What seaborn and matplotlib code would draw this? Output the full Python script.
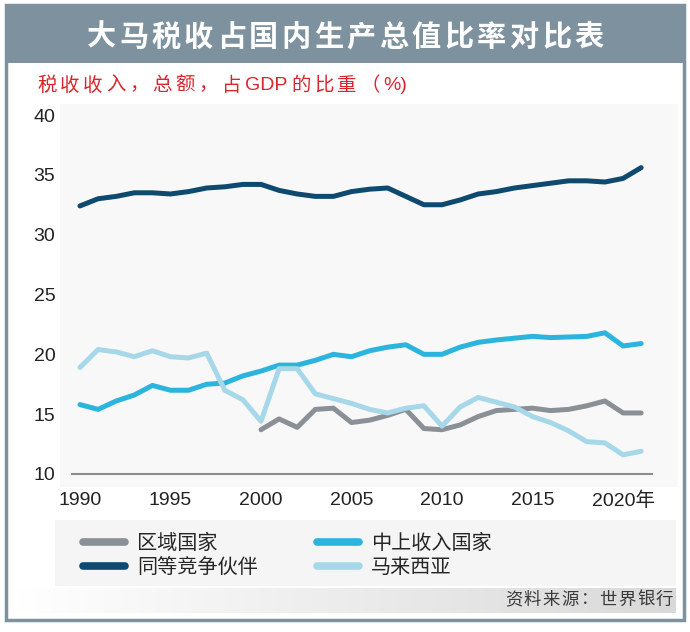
import re

import numpy as np
import pandas as pd
import seaborn as sns
import matplotlib.pyplot as plt
from matplotlib.patches import Rectangle
from matplotlib.lines import Line2D
from matplotlib.colors import LinearSegmentedColormap

W, H = 690, 632

years = list(range(1990, 2022))
regional_years = list(range(2000, 2022))

regional = [13.7, 14.6, 13.9, 15.4, 15.5, 14.3, 14.5, 14.9, 15.4, 13.8, 13.7,
            14.1, 14.8, 15.3, 15.4, 15.5, 15.3, 15.4, 15.7, 16.1, 15.1, 15.1]
upper_middle = [15.8, 15.4, 16.1, 16.6, 17.4, 17.0, 17.0, 17.5, 17.6, 18.2,
                18.6, 19.1, 19.1, 19.5, 20.0, 19.8, 20.3, 20.6, 20.8, 20.0,
                20.0, 20.6, 21.0, 21.2, 21.35, 21.5, 21.4, 21.45, 21.5, 21.8,
                20.7, 20.9]
peers = [32.4, 33.0, 33.2, 33.5, 33.5, 33.4, 33.6, 33.9, 34.0, 34.2,
         34.2, 33.7, 33.4, 33.2, 33.2, 33.6, 33.8, 33.9, 33.2, 32.5,
         32.5, 32.9, 33.4, 33.6, 33.9, 34.1, 34.3, 34.5, 34.5, 34.4,
         34.7, 35.6]
malaysia = [18.9, 20.4, 20.2, 19.8, 20.3, 19.8, 19.7, 20.1, 17.0, 16.2,
            14.4, 18.8, 18.8, 16.7, 16.3, 15.9, 15.4, 15.1, 15.5, 15.7,
            14.0, 15.6, 16.4, 16.0, 15.6, 14.8, 14.3, 13.6, 12.7, 12.6,
            11.6, 11.9]

series_names = ['区域国家', '中上收入国家', '同等竞争伙伴', '马来西亚']
colors = ['#8b9096', '#2bb5de', '#0e4a6f', '#a6d8ea']

title = '大马税收占国内生产总值比率对比表'
subtitle = '税收收入，总额，占GDP的比重（%)'
source = '资料来源：世界银行'
x_ticks = [1990, 1995, 2000, 2005, 2010, 2015, 2020]
x_labels = ['1990', '1995', '2000', '2005', '2010', '2015', '2020年']
y_ticks = [10, 15, 20, 25, 30, 35, 40]

df = pd.concat([
    pd.DataFrame({'year': regional_years, 'value': regional, 'series': series_names[0]}),
    pd.DataFrame({'year': years, 'value': upper_middle, 'series': series_names[1]}),
    pd.DataFrame({'year': years, 'value': peers, 'series': series_names[2]}),
    pd.DataFrame({'year': years, 'value': malaysia, 'series': series_names[3]}),
])

sns.set_style('white')
plt.rcParams['font.family'] = ['Liberation Sans', 'Noto Sans CJK SC']

fig = plt.figure(figsize=(6.9, 6.32), dpi=100)
renderer = fig.canvas.get_renderer()


def box(x0, y0, x1, y1, **kw):
    # rectangle given in pixel coords (top-left origin)
    fig.patches.append(Rectangle((x0 / W, 1 - y1 / H), (x1 - x0) / W, (y1 - y0) / H,
                                 transform=fig.transFigure, **kw))


def pitched_text(x_first, x_last, y, s, **kw):
    # one glyph per slot, evenly spread between first and last centre
    step = (x_last - x_first) / (len(s) - 1)
    for i, ch in enumerate(s):
        fig.text((x_first + i * step) / W, 1 - y / H, ch, ha='center', va='center', **kw)


def spaced_text(x, y, s, gap, **kw):
    # token by token, for mixed CJK / latin strings
    for tok in re.findall(r'[A-Za-z0-9%()]+|.', s):
        t = fig.text(x / W, 1 - y / H, tok, ha='left', va='center', **kw)
        x += t.get_window_extent(renderer=renderer).width + gap


# frame, title band and light panels
box(6, 5, 684, 620, facecolor='none', edgecolor='#7d929e', linewidth=2.5, zorder=5)
box(6, 5, 684, 63, facecolor='#7d929e', edgecolor='none', zorder=-2)
box(60, 104, 678, 487, facecolor='#f8f8f8', edgecolor='none', zorder=-2)
box(55, 520, 676, 586, facecolor='#f5f5f5', edgecolor='none', zorder=-2)

pitched_text(101, 589, 38, title, fontsize=21, fontweight='bold', color='white')
spaced_text(37, 86, subtitle, 3.6, fontsize=14, color='#d9262e')

ax = fig.add_axes([72 / W, 1 - 474 / H, (652 - 72) / W, (474 - 115) / H])
ax.set_zorder(2)
ax.patch.set_alpha(0)
sns.lineplot(data=df, x='year', y='value', hue='series', hue_order=series_names,
             palette=dict(zip(series_names, colors)), estimator=None,
             linewidth=3.6, solid_capstyle='round', solid_joinstyle='round',
             legend=False, ax=ax)

ax.set_xlim(1989.56, 2021.6)
ax.set_ylim(10, 40)
ax.set_xticks(x_ticks)
ax.set_xticklabels(x_labels)
ax.set_yticks(y_ticks)
ax.tick_params(axis='both', length=0, labelsize=14, labelcolor='#222222')
ax.tick_params(axis='y', pad=12)
ax.tick_params(axis='x', pad=13)
ax.set_xlabel('')
ax.set_ylabel('')
for side in ['top', 'right', 'left']:
    ax.spines[side].set_visible(False)
ax.spines['bottom'].set_color('#8c8c8c')
ax.spines['bottom'].set_linewidth(1.5)

# legend, column-wise: left column gray / navy, right column cyan / light blue
order = [0, 2, 1, 3]
handles = [Line2D([], [], color=colors[i], linewidth=5.5, solid_capstyle='round') for i in order]
labels = [series_names[i] for i in order]
leg = fig.legend(handles, labels, ncol=2, loc='upper left', bbox_to_anchor=(75 / W, 1 - 526 / H),
                 frameon=False, fontsize=14.5, handlelength=2.1, handletextpad=0.6,
                 columnspacing=2.9, labelspacing=0.25, borderaxespad=0)
leg.set_zorder(3)

# source band with soft gray gradient
band = fig.add_axes([16 / W, 1 - 613 / H, (676 - 16) / W, (613 - 588) / H])
band.set_zorder(1)
grad = LinearSegmentedColormap.from_list('band', ['#ffffff', '#d9d9d9'])
band.imshow(np.linspace(0, 1, 256)[None, :], aspect='auto', cmap=grad)
band.set_axis_off()
spaced_text(505, 600, source, 1.5, fontsize=12.5, color='#3a3a3a', zorder=4)

fig.savefig('out.png', dpi=100)
